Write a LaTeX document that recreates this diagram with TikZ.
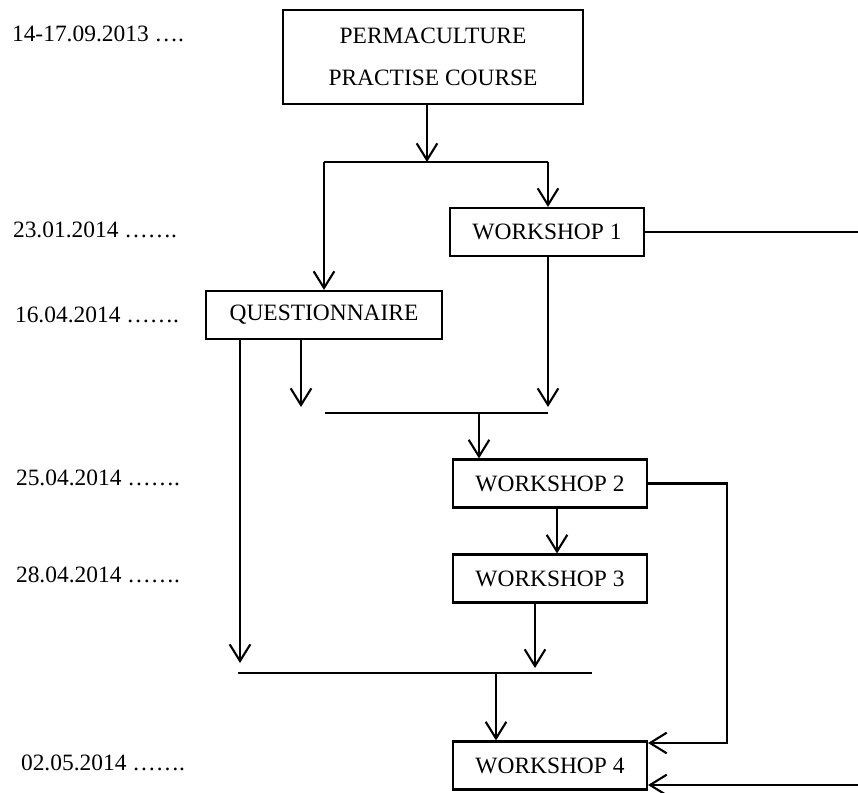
\documentclass[tikz,border=0pt]{standalone}
\usepackage{fontspec}
\setmainfont{Liberation Serif}
\usetikzlibrary{arrows.meta}

\begin{document}
\begin{tikzpicture}[x=0.03cm, y=-0.03cm, line width=1.8pt,
        every node/.style={font=\fontsize{20}{36}\selectfont},
        box/.style={draw, line width=1.8pt, minimum width=5.82cm, minimum height=1.44cm, inner sep=0pt},
        datum/.style={anchor=west, inner sep=0pt},
        arr/.style={-{Straight Barb[length=5mm, width=6.2mm]}}]
        \useasboundingbox (0,0) rectangle (858,793);

        % Dates
        \node[datum] (d1) at (11,34) {14-17.09.2013 ….};
        \node[datum] (d2) at (12,230) {23.01.2014 …….};
        \node[datum] (d3) at (14,315) {16.04.2014 …….};
        \node[datum] (d4) at (15,478) {25.04.2014 …….};
        \node[datum] (d5) at (15,575) {28.04.2014 …….};
        \node[datum] (d6) at (20,763) {02.05.2014 …….};

        % Boxes
        \node[box, minimum width=9cm, minimum height=2.82cm, align=center] (course) at (433,57) {PERMACULTURE\\PRACTISE COURSE};
        \node[box] (ws1) at (547,232) {WORKSHOP 1};
        \node[box, minimum width=7.08cm] (quest) at (324,315) {QUESTIONNAIRE};
        \node[box] (ws2) at (550,483.5) {WORKSHOP 2};
        \node[box] (ws3) at (550,578.5) {WORKSHOP 3};
        \node[box] (ws4) at (550,765.5) {WORKSHOP 4};

        % Verzweigung nach dem Kurs
        \coordinate (fork) at (427,162);
        \coordinate (forkL) at (324,162);
        \coordinate (forkR) at (548,162);
        \draw[arr] (course.south -| fork) -- (fork);
        \draw (forkL) -- (forkR);
        \draw[arr] (forkL) -- (quest.north -| forkL);
        \draw[arr] (forkR) -- (ws1.north -| forkR);
        \coordinate (ws1out) at (858,232);
        \draw (ws1.east) -- (ws1out);

        % Zusammenfuehrung vor Workshop 2
        \coordinate (joinA) at (325,413);
        \coordinate (joinB) at (548,413);
        \coordinate (qdrop) at (301,407);
        \coordinate (stemA) at (479,413);
        \draw (joinA) -- (joinB);
        \draw[arr] (quest.south -| qdrop) -- (qdrop);
        \draw[arr] (ws1.south -| joinB) -- (joinB |- qdrop);
        \draw[arr] (stemA) -- (ws2.north -| stemA);

        % Workshop 2 -> Workshop 3
        \draw[arr] ([xshift=0.21cm]ws2.south) -- ([xshift=0.21cm]ws3.north);

        % Zusammenfuehrung vor Workshop 4
        \coordinate (qlong) at (240,663);
        \coordinate (w3drop) at (535,668);
        \coordinate (joinC) at (238,673);
        \coordinate (joinD) at (592,673);
        \coordinate (stemB) at (496,673);
        \draw[arr] (quest.south -| qlong) -- (qlong);
        \draw[arr] (ws3.south -| w3drop) -- (w3drop);
        \draw (joinC) -- (joinD);
        \draw[arr] (stemB) -- (ws4.north -| stemB);

        % Rueckfuehrungen rechts
        \coordinate (loop) at (727,743);
        \coordinate (ws4in) at (858,785);
        \draw[arr] (ws2.east) -| (loop) -- (ws4.east |- loop);
        \draw[arr] (ws4in) -- (ws4.east |- ws4in);
\end{tikzpicture}
\end{document}
